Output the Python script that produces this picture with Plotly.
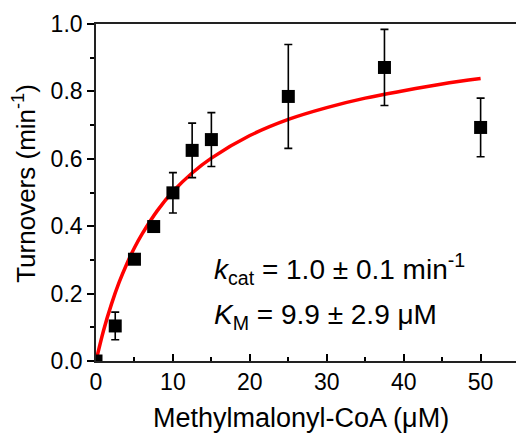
import plotly.graph_objects as go

# Measured data
conc = [0, 2.5, 5, 7.5, 10, 12.5, 15, 25, 37.5, 50]
turnovers = [0, 0.104, 0.302, 0.399, 0.499, 0.625, 0.657, 0.785, 0.871, 0.693]
errors = [0, 0.041, 0.006, 0.01, 0.06, 0.081, 0.08, 0.154, 0.113, 0.087]

# Fit curve
fit_x = [0, 1, 2, 3, 4, 5, 6, 8, 10, 12.5, 15, 20, 25, 30, 35, 40, 45, 50]
fit_y = [0, 0.092, 0.168, 0.233, 0.288, 0.336, 0.377, 0.447, 0.503, 0.558,
         0.602, 0.669, 0.717, 0.752, 0.780, 0.802, 0.822, 0.838]

x_ticks = [0, 10, 20, 30, 40, 50]
y_ticks = [0.0, 0.2, 0.4, 0.6, 0.8, 1.0]
y_tick_labels = ["0.0", "0.2", "0.4", "0.6", "0.8", "1.0"]

FONT = "Arial, 'Liberation Sans', sans-serif"

fig = go.Figure()
fig.add_trace(go.Scatter(
    x=fit_x, y=fit_y, mode="lines",
    line=dict(color="#ff0000", width=3.5, shape="spline"),
    hoverinfo="skip", showlegend=False,
))
fig.add_trace(go.Scatter(
    x=conc, y=turnovers, mode="markers",
    marker=dict(symbol="square", size=13, color="black"),
    error_y=dict(type="data", array=errors, visible=True, color="black",
                 thickness=1.6, width=4),
    cliponaxis=True, showlegend=False,
))

fig.update_layout(
    width=516, height=435,
    margin=dict(l=96, r=0, t=24, b=74),
    paper_bgcolor="white", plot_bgcolor="white",
    font=dict(family=FONT, color="black"),
    showlegend=False,
)
fig.update_xaxes(
    range=[0, 54.6], tickvals=x_ticks, ticks="inside", ticklen=7, tickwidth=1.5,
    tickcolor="black", showline=True, linecolor="#222", linewidth=1.6, mirror=True,
    showgrid=False, zeroline=False,
    tickfont=dict(size=23, family=FONT, color="black"),
    minor=dict(ticks="inside", ticklen=4, tickwidth=1.5, tickcolor="black", dtick=5, showgrid=False),
)
fig.update_yaxes(
    range=[0, 1.0], tickvals=y_ticks, ticktext=y_tick_labels, ticks="outside",
    ticklen=7, tickwidth=1.5, tickcolor="black",
    showline=True, linecolor="#222", linewidth=1.6, mirror=False,
    showgrid=False, zeroline=False,
    tickfont=dict(size=23, family=FONT, color="black"),
    minor=dict(ticks="outside", ticklen=4, tickwidth=1.5, tickcolor="black", dtick=0.1, showgrid=False),
)

fig.add_annotation(
    text="<i>k</i><sub>cat</sub> = 1.0 ± 0.1 min<sup>-1</sup>",
    x=15.1, y=0.273, xref="x", yref="y", xanchor="left", yanchor="middle",
    showarrow=False, font=dict(size=28, family=FONT, color="black"),
)
fig.add_annotation(
    text="<i>K</i><sub>M</sub> = 9.9 ± 2.9 μM",
    x=15.1, y=0.131, xref="x", yref="y", xanchor="left", yanchor="middle",
    showarrow=False, font=dict(size=28, family=FONT, color="black"),
)
fig.add_annotation(
    text="Methylmalonyl-CoA (μM)",
    x=0.488, y=-0.17, xref="paper", yref="paper", xanchor="center", yanchor="middle",
    showarrow=False, font=dict(size=27, family=FONT, color="black"),
)
fig.add_annotation(
    text="Turnovers (min<sup>-1</sup>)",
    x=-0.172, y=0.528, xref="paper", yref="paper", xanchor="center", yanchor="middle",
    textangle=-90, showarrow=False, font=dict(size=26, family=FONT, color="black"),
)

fig.write_html(
    "out.html",
    config={"displayModeBar": False},
    post_script="document.body.style.margin='0';document.body.style.overflow='hidden';",
)
